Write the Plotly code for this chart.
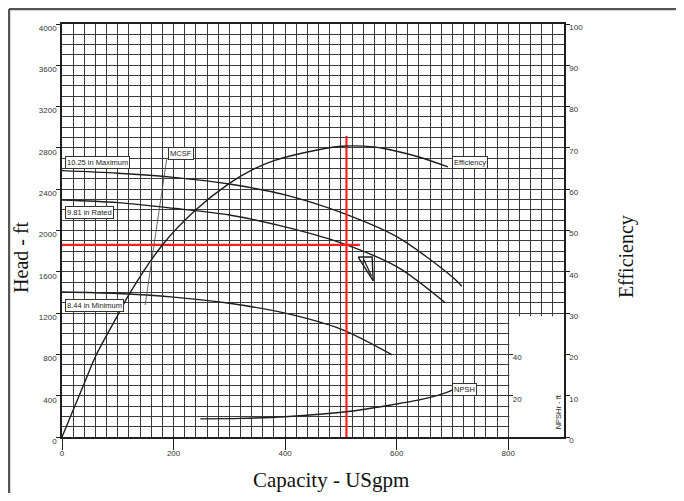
import plotly.graph_objects as go

# ---------------- data ----------------
cap_max = [0, 100, 200, 300, 400, 500, 600, 700, 717]
head_max = [2580, 2555, 2515, 2450, 2345, 2175, 1940, 1550, 1460]

cap_rated = [0, 100, 200, 300, 400, 500, 600, 687]
head_rated = [2295, 2270, 2215, 2150, 2035, 1880, 1650, 1300]

cap_min = [0, 100, 200, 300, 400, 500, 592]
head_min = [1404, 1390, 1355, 1295, 1200, 1045, 795]

cap_eff = [0, 40, 60, 100, 120, 180, 240, 300, 340, 380, 440, 500, 520, 560, 600, 640, 692]
eff = [0, 13, 19.5, 29.5, 34.5, 46.5, 55, 61.4, 64.6, 66.9, 69.0, 70.4, 70.5, 70.2, 69.2, 67.8, 65.4]

cap_npsh = [248, 320, 400, 510, 590, 655, 690, 700]
npsh_ft = [4.4, 4.5, 4.9, 6.1, 7.75, 9.4, 10.8, 11.4]

cap_mcsf = [149, 188]
head_mcsf = [1278, 2702]

rated_flow = 510
rated_head = 1860
red_v_top = 2915
red_h_end = 534

tri_x = [531, 556, 558, 531]
tri_y = [1743, 1743, 1511, 1743]
tri_inner_x = [540, 555]
tri_inner_y = [1730, 1560]

x_ticks = [0, 200, 400, 600, 800]
y_ticks = list(range(0, 4001, 400))
eff_ticks = list(range(0, 101, 10))
inner_ticks = [20, 40]

labels = [
    ("10.25 in Maximum", 5, 2663),
    ("9.81 in Rated", 5, 2170),
    ("8.44 in Minimum", 5, 1278),
    ("MCSF", 190, 2750),
    ("Efficiency", 700, 2654),
    ("NPSH", 700, 460),
]

# ---------------- figure ----------------
INK = "#1e1e1e"
GRID = "#3a3a3a"
RED = "#ff1f1f"
SANS = "Liberation Sans, Arial, sans-serif"
SERIF = "Liberation Serif, Times New Roman, serif"

fig = go.Figure()

curve = dict(color=INK, width=1.4, shape="spline", smoothing=0.9)
fig.add_trace(go.Scatter(x=cap_max, y=head_max, mode="lines", line=curve))
fig.add_trace(go.Scatter(x=cap_rated, y=head_rated, mode="lines", line=curve))
fig.add_trace(go.Scatter(x=cap_min, y=head_min, mode="lines", line=curve))
fig.add_trace(go.Scatter(x=cap_mcsf, y=head_mcsf, mode="lines",
                         line=dict(color="#444", width=0.8)))
fig.add_trace(go.Scatter(x=cap_eff, y=eff, mode="lines", line=curve, yaxis="y2"))
fig.add_trace(go.Scatter(x=cap_npsh, y=npsh_ft, mode="lines", line=curve, yaxis="y2"))

# duty point cross-hair
fig.add_trace(go.Scatter(x=[rated_flow, rated_flow], y=[0, red_v_top], mode="lines",
                         line=dict(color=RED, width=2.2)))
fig.add_trace(go.Scatter(x=[0, red_h_end], y=[rated_head, rated_head], mode="lines",
                         line=dict(color=RED, width=2.2)))
# triangle marker
fig.add_trace(go.Scatter(x=tri_x, y=tri_y, mode="lines", line=dict(color=INK, width=1.4)))
fig.add_trace(go.Scatter(x=tri_inner_x, y=tri_inner_y, mode="lines",
                         line=dict(color=INK, width=1.2)))

for text, lx, ly in labels:
    fig.add_annotation(x=lx, y=ly, xref="x", yref="y", text=text, showarrow=False,
                       xanchor="left", yanchor="middle",
                       font=dict(family=SANS, size=7.5, color="#222"),
                       bgcolor="white", bordercolor="#333", borderwidth=1, borderpad=1)

# white region, lower right
fig.add_shape(type="rect", xref="x", yref="y", x0=802, x1=900, y0=0, y1=1170,
              fillcolor="white", line=dict(width=0), layer="between")

# outer frame
fig.add_shape(type="line", xref="paper", yref="paper", x0=-0.1056, x1=1.3, y0=1.0363, y1=1.0363,
              line=dict(color="#555", width=2.5))
fig.add_shape(type="line", xref="paper", yref="paper", x0=-0.1056, x1=-0.1056, y0=1.0363, y1=-0.2,
              line=dict(color="#555", width=2.5))

# titles
title_common = dict(xref="paper", yref="paper", showarrow=False,
                    xanchor="center", yanchor="middle")
fig.add_annotation(x=-0.0817, y=0.436, text="Head - ft", textangle=-90,
                   font=dict(family=SERIF, size=20, color="#111"), **title_common)
fig.add_annotation(x=1.1235, y=0.438, text="Efficiency", textangle=-90,
                   font=dict(family=SERIF, size=20, color="#111"), **title_common)
fig.add_annotation(x=0.536, y=-0.104, text="Capacity - USgpm",
                   font=dict(family=SERIF, size=21, color="#111"), **title_common)
fig.add_annotation(x=0.988, y=0.062, text="NPSHr - ft", textangle=-90,
                   font=dict(family=SANS, size=7.5, color="#222"), **title_common)

tickfont = dict(family=SANS, size=8, color="#333")

fig.update_layout(
    width=668, height=485,
    margin=dict(l=54, r=112, t=16, b=56, autoexpand=False),
    paper_bgcolor="white", plot_bgcolor="white",
    showlegend=False,
    xaxis=dict(range=[0, 900], tickmode="array", tickvals=x_ticks,
               ticktext=[str(v) for v in x_ticks], tickfont=tickfont,
               ticks="outside", ticklen=11, tickcolor=INK, tickwidth=1,
               ticklabelstandoff=-3,
               showgrid=True, gridcolor=GRID, gridwidth=1, zeroline=False,
               minor=dict(tickmode="linear", tick0=0, dtick=20, showgrid=True,
                          gridcolor=GRID, gridwidth=1, ticks=""),
               showline=True, linecolor=INK, linewidth=1.5, mirror=True),
    yaxis=dict(range=[0, 4000], tickmode="array", tickvals=y_ticks,
               ticktext=[str(v) for v in y_ticks], tickfont=tickfont,
               ticks="outside", ticklen=4, tickcolor=INK, ticklabelshift=4,
               ticklabelstandoff=-2,
               showgrid=True, gridcolor=GRID, gridwidth=1, zeroline=False,
               minor=dict(tickmode="linear", tick0=0, dtick=100, showgrid=True,
                          gridcolor=GRID, gridwidth=1, ticks=""),
               showline=True, linecolor=INK, linewidth=1.5),
    yaxis2=dict(range=[0, 100], overlaying="y", side="right", tickmode="array",
                tickvals=eff_ticks, ticktext=[str(v) for v in eff_ticks],
                tickfont=tickfont, ticks="outside", ticklen=4, tickcolor=INK,
                ticklabelshift=3, ticklabelstandoff=-2,
                showgrid=False, zeroline=False, showline=True, linecolor=INK, linewidth=1.5),
    yaxis3=dict(range=[0, 200], overlaying="y", anchor="free", position=800 / 900,
                side="right", tickmode="array", tickvals=inner_ticks,
                ticktext=[str(v) for v in inner_ticks], tickfont=tickfont,
                ticks="outside", ticklen=4, tickcolor=INK, ticklabelshift=3,
                ticklabelstandoff=-2,
                showgrid=False, zeroline=False, showline=False),
)

# dummy trace so yaxis3 is drawn
fig.add_trace(go.Scatter(x=[None], y=[None], yaxis="y3", hoverinfo="skip"))

fig.write_html("out.html")
